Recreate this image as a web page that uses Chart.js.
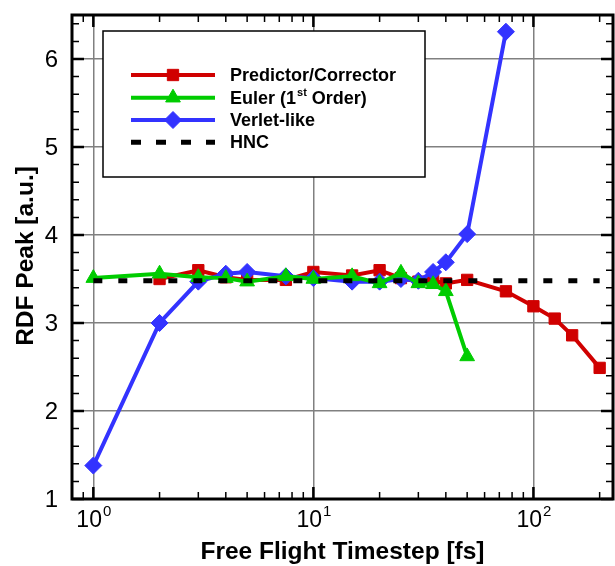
<!DOCTYPE html>
<html>
<head>
<meta charset="utf-8">
<script src="https://cdn.jsdelivr.net/npm/chart.js@4.4.1/dist/chart.umd.min.js"></script>
<style>
  body { margin: 0; background: #fff; }
  canvas { display: block; }
</style>
</head>
<body>
<canvas id="chart" width="615" height="566"></canvas>
<script>
// Predictor/Corrector
const pcTimestep = [2, 3, 4, 5, 7.5, 10, 15, 20, 25, 30, 35, 40, 50, 75, 100, 125, 150, 200];
const pcPeak = [3.50, 3.60, 3.52, 3.49, 3.49, 3.58, 3.54, 3.60, 3.51, 3.47, 3.48, 3.45, 3.49, 3.36, 3.19, 3.05, 2.86, 2.49];

// Euler (1st order)
const eulerTimestep = [1, 2, 3, 4, 5, 7.5, 10, 15, 20, 25, 30, 35, 40, 50];
const eulerPeak = [3.51, 3.56, 3.52, 3.51, 3.47, 3.53, 3.50, 3.53, 3.45, 3.57, 3.45, 3.44, 3.36, 2.62];

// Verlet-like
const verletTimestep = [1, 2, 3, 4, 5, 7.5, 10, 15, 20, 25, 30, 35, 40, 50, 75];
const verletPeak = [1.38, 3.00, 3.47, 3.56, 3.58, 3.53, 3.51, 3.47, 3.47, 3.50, 3.48, 3.58, 3.69, 4.01, 6.31];

// HNC reference
const hncTimestep = [1, 200];
const hncPeak = [3.48, 3.48];

// axis ticks
const xMajorExponents = [0, 1, 2];
const xMinorTicks = [0.8, 0.9, 2, 3, 4, 5, 6, 7, 8, 9, 20, 30, 40, 50, 60, 70, 80, 90, 200];
const yMajorTicks = [1, 2, 3, 4, 5, 6];
const yMinorTicks = [1.2, 1.4, 1.6, 1.8, 2.2, 2.4, 2.6, 2.8, 3.2, 3.4, 3.6, 3.8, 4.2, 4.4, 4.6, 4.8,
  5.2, 5.4, 5.6, 5.8, 6.2, 6.4];

const seriesNames = ["Predictor/Corrector", "Euler (1", "Verlet-like", "HNC"];

const RED = "#d00000";
const GREEN = "#00cc00";
const BLUE = "#3333ff";
const FONT = "'Liberation Sans', Arial, sans-serif";

const toPoints = (xs, ys) => xs.map((x, i) => ({ x: x, y: ys[i] }));

const seriesStyle = (color, pointStyle, radius) => ({
  borderColor: color,
  backgroundColor: color,
  pointBackgroundColor: color,
  pointBorderColor: color,
  borderWidth: 4,
  pointStyle: pointStyle,
  pointRadius: radius,
  pointBorderWidth: 1,
  tension: 0,
  fill: false,
});

// frame, inward ticks, tick labels, axis titles and legend box
const decorations = {
  id: "decorations",
  afterDatasetsDraw(chart) {
    const { ctx, chartArea: a } = chart;
    const xs = chart.scales.x;
    const ys = chart.scales.y;
    ctx.save();
    ctx.strokeStyle = "#000";
    ctx.lineCap = "butt";

    const vTick = (px, len, w) => {
      ctx.lineWidth = w;
      ctx.beginPath();
      ctx.moveTo(px, a.bottom);
      ctx.lineTo(px, a.bottom - len);
      ctx.moveTo(px, a.top);
      ctx.lineTo(px, a.top + len);
      ctx.stroke();
    };
    const hTick = (py, len, w) => {
      ctx.lineWidth = w;
      ctx.beginPath();
      ctx.moveTo(a.left, py);
      ctx.lineTo(a.left + len, py);
      ctx.moveTo(a.right, py);
      ctx.lineTo(a.right - len, py);
      ctx.stroke();
    };
    xMinorTicks.forEach((v) => vTick(xs.getPixelForValue(v), 7, 1.5));
    xMajorExponents.forEach((e) => vTick(xs.getPixelForValue(Math.pow(10, e)), 12, 2.5));
    yMinorTicks.forEach((v) => hTick(ys.getPixelForValue(v), 7, 1.5));
    yMajorTicks.forEach((v) => hTick(ys.getPixelForValue(v), 12, 2.5));

    ctx.lineWidth = 3;
    ctx.strokeRect(a.left, a.top, a.right - a.left, a.bottom - a.top);

    // tick labels
    ctx.fillStyle = "#000";
    ctx.textBaseline = "alphabetic";
    xMajorExponents.forEach((e) => {
      const px = xs.getPixelForValue(Math.pow(10, e));
      ctx.font = "23px " + FONT;
      const wBase = ctx.measureText("10").width;
      ctx.font = "15px " + FONT;
      const wExp = ctx.measureText(String(e)).width;
      const start = px - (wBase + wExp) / 2;
      ctx.font = "23px " + FONT;
      ctx.textAlign = "left";
      ctx.fillText("10", start, 527);
      ctx.font = "15px " + FONT;
      ctx.fillText(String(e), start + wBase + 1, 516);
    });
    ctx.font = "24px " + FONT;
    ctx.textAlign = "right";
    ctx.textBaseline = "middle";
    yMajorTicks.forEach((v) => {
      ctx.fillText(String(v), 58, ys.getPixelForValue(v) + 1);
    });

    // axis titles
    ctx.font = "bold 24.5px " + FONT;
    ctx.textAlign = "center";
    ctx.textBaseline = "alphabetic";
    ctx.fillText("Free Flight Timestep [fs]", (a.left + a.right) / 2, 559);
    ctx.save();
    ctx.translate(33, 256);
    ctx.rotate(-Math.PI / 2);
    ctx.fillText("RDF Peak [a.u.]", 0, 0);
    ctx.restore();

    // legend
    const box = { left: 103, top: 31, right: 425, bottom: 177 };
    ctx.fillStyle = "#fff";
    ctx.fillRect(box.left, box.top, box.right - box.left, box.bottom - box.top);
    ctx.lineWidth = 1.5;
    ctx.strokeStyle = "#000";
    ctx.strokeRect(box.left, box.top, box.right - box.left, box.bottom - box.top);

    const rows = [75, 97.7, 120, 142.3];
    const colors = [RED, GREEN, BLUE, "#000"];
    const markers = [["rect", 8], ["triangle", 8.5], ["rectRot", 8.5], null];
    rows.forEach((ry, i) => {
      ctx.strokeStyle = colors[i];
      ctx.fillStyle = colors[i];
      ctx.lineWidth = i === 3 ? 5 : 4;
      ctx.setLineDash(i === 3 ? [10, 15] : []);
      ctx.beginPath();
      ctx.moveTo(131, ry);
      ctx.lineTo(215, ry);
      ctx.stroke();
      ctx.setLineDash([]);
      if (markers[i]) {
        ctx.lineWidth = 1;
        Chart.helpers.drawPoint(ctx, { pointStyle: markers[i][0], radius: markers[i][1], rotation: 0, borderWidth: 1 }, 173, ry);
      }
      ctx.fillStyle = "#000";
      ctx.font = "bold 18px " + FONT;
      ctx.textAlign = "left";
      ctx.textBaseline = "middle";
      ctx.fillText(seriesNames[i], 230, ry + 1);
      if (i === 1) {
        let cx = 230 + ctx.measureText(seriesNames[i]).width;
        ctx.font = "bold 11px " + FONT;
        ctx.fillText("st", cx + 1, ry - 5);
        cx += ctx.measureText("st").width + 1;
        ctx.font = "bold 18px " + FONT;
        ctx.fillText(" Order)", cx, ry + 1);
      }
    });
    ctx.restore();
  },
};

new Chart(document.getElementById("chart"), {
  type: "line",
  data: {
    datasets: [
      Object.assign({ label: "HNC", data: toPoints(hncTimestep, hncPeak), order: 0 },
        seriesStyle("#000", false, 0), { borderWidth: 5, borderDash: [9, 16] }),
      Object.assign({ label: "Verlet-like", data: toPoints(verletTimestep, verletPeak), order: 2 },
        seriesStyle(BLUE, "rectRot", 8.5)),
      Object.assign({ label: "Euler (1st Order)", data: toPoints(eulerTimestep, eulerPeak), order: 1 },
        seriesStyle(GREEN, "triangle", 8.5)),
      Object.assign({ label: "Predictor/Corrector", data: toPoints(pcTimestep, pcPeak), order: 3 },
        seriesStyle(RED, "rect", 8)),
    ],
  },
  options: {
    responsive: false,
    animation: false,
    events: [],
    layout: { autoPadding: false, padding: { left: 72, top: 15, right: 2, bottom: 67 } },
    plugins: { legend: { display: false }, tooltip: { enabled: false } },
    scales: {
      x: {
        type: "logarithmic",
        min: 0.8,
        max: 230,
        border: { display: false },
        grid: { color: "#808080", lineWidth: 1.5, drawTicks: false },
        ticks: { display: false },
        afterBuildTicks: (s) => {
          s.ticks = xMajorExponents.map((e) => ({ value: Math.pow(10, e) }));
        },
      },
      y: {
        type: "linear",
        min: 1,
        max: 6.5,
        border: { display: false },
        grid: { color: "#808080", lineWidth: 1.5, drawTicks: false },
        ticks: { display: false },
        afterBuildTicks: (s) => {
          s.ticks = yMajorTicks.map((v) => ({ value: v }));
        },
      },
    },
  },
  plugins: [decorations],
});
</script>
</body>
</html>
